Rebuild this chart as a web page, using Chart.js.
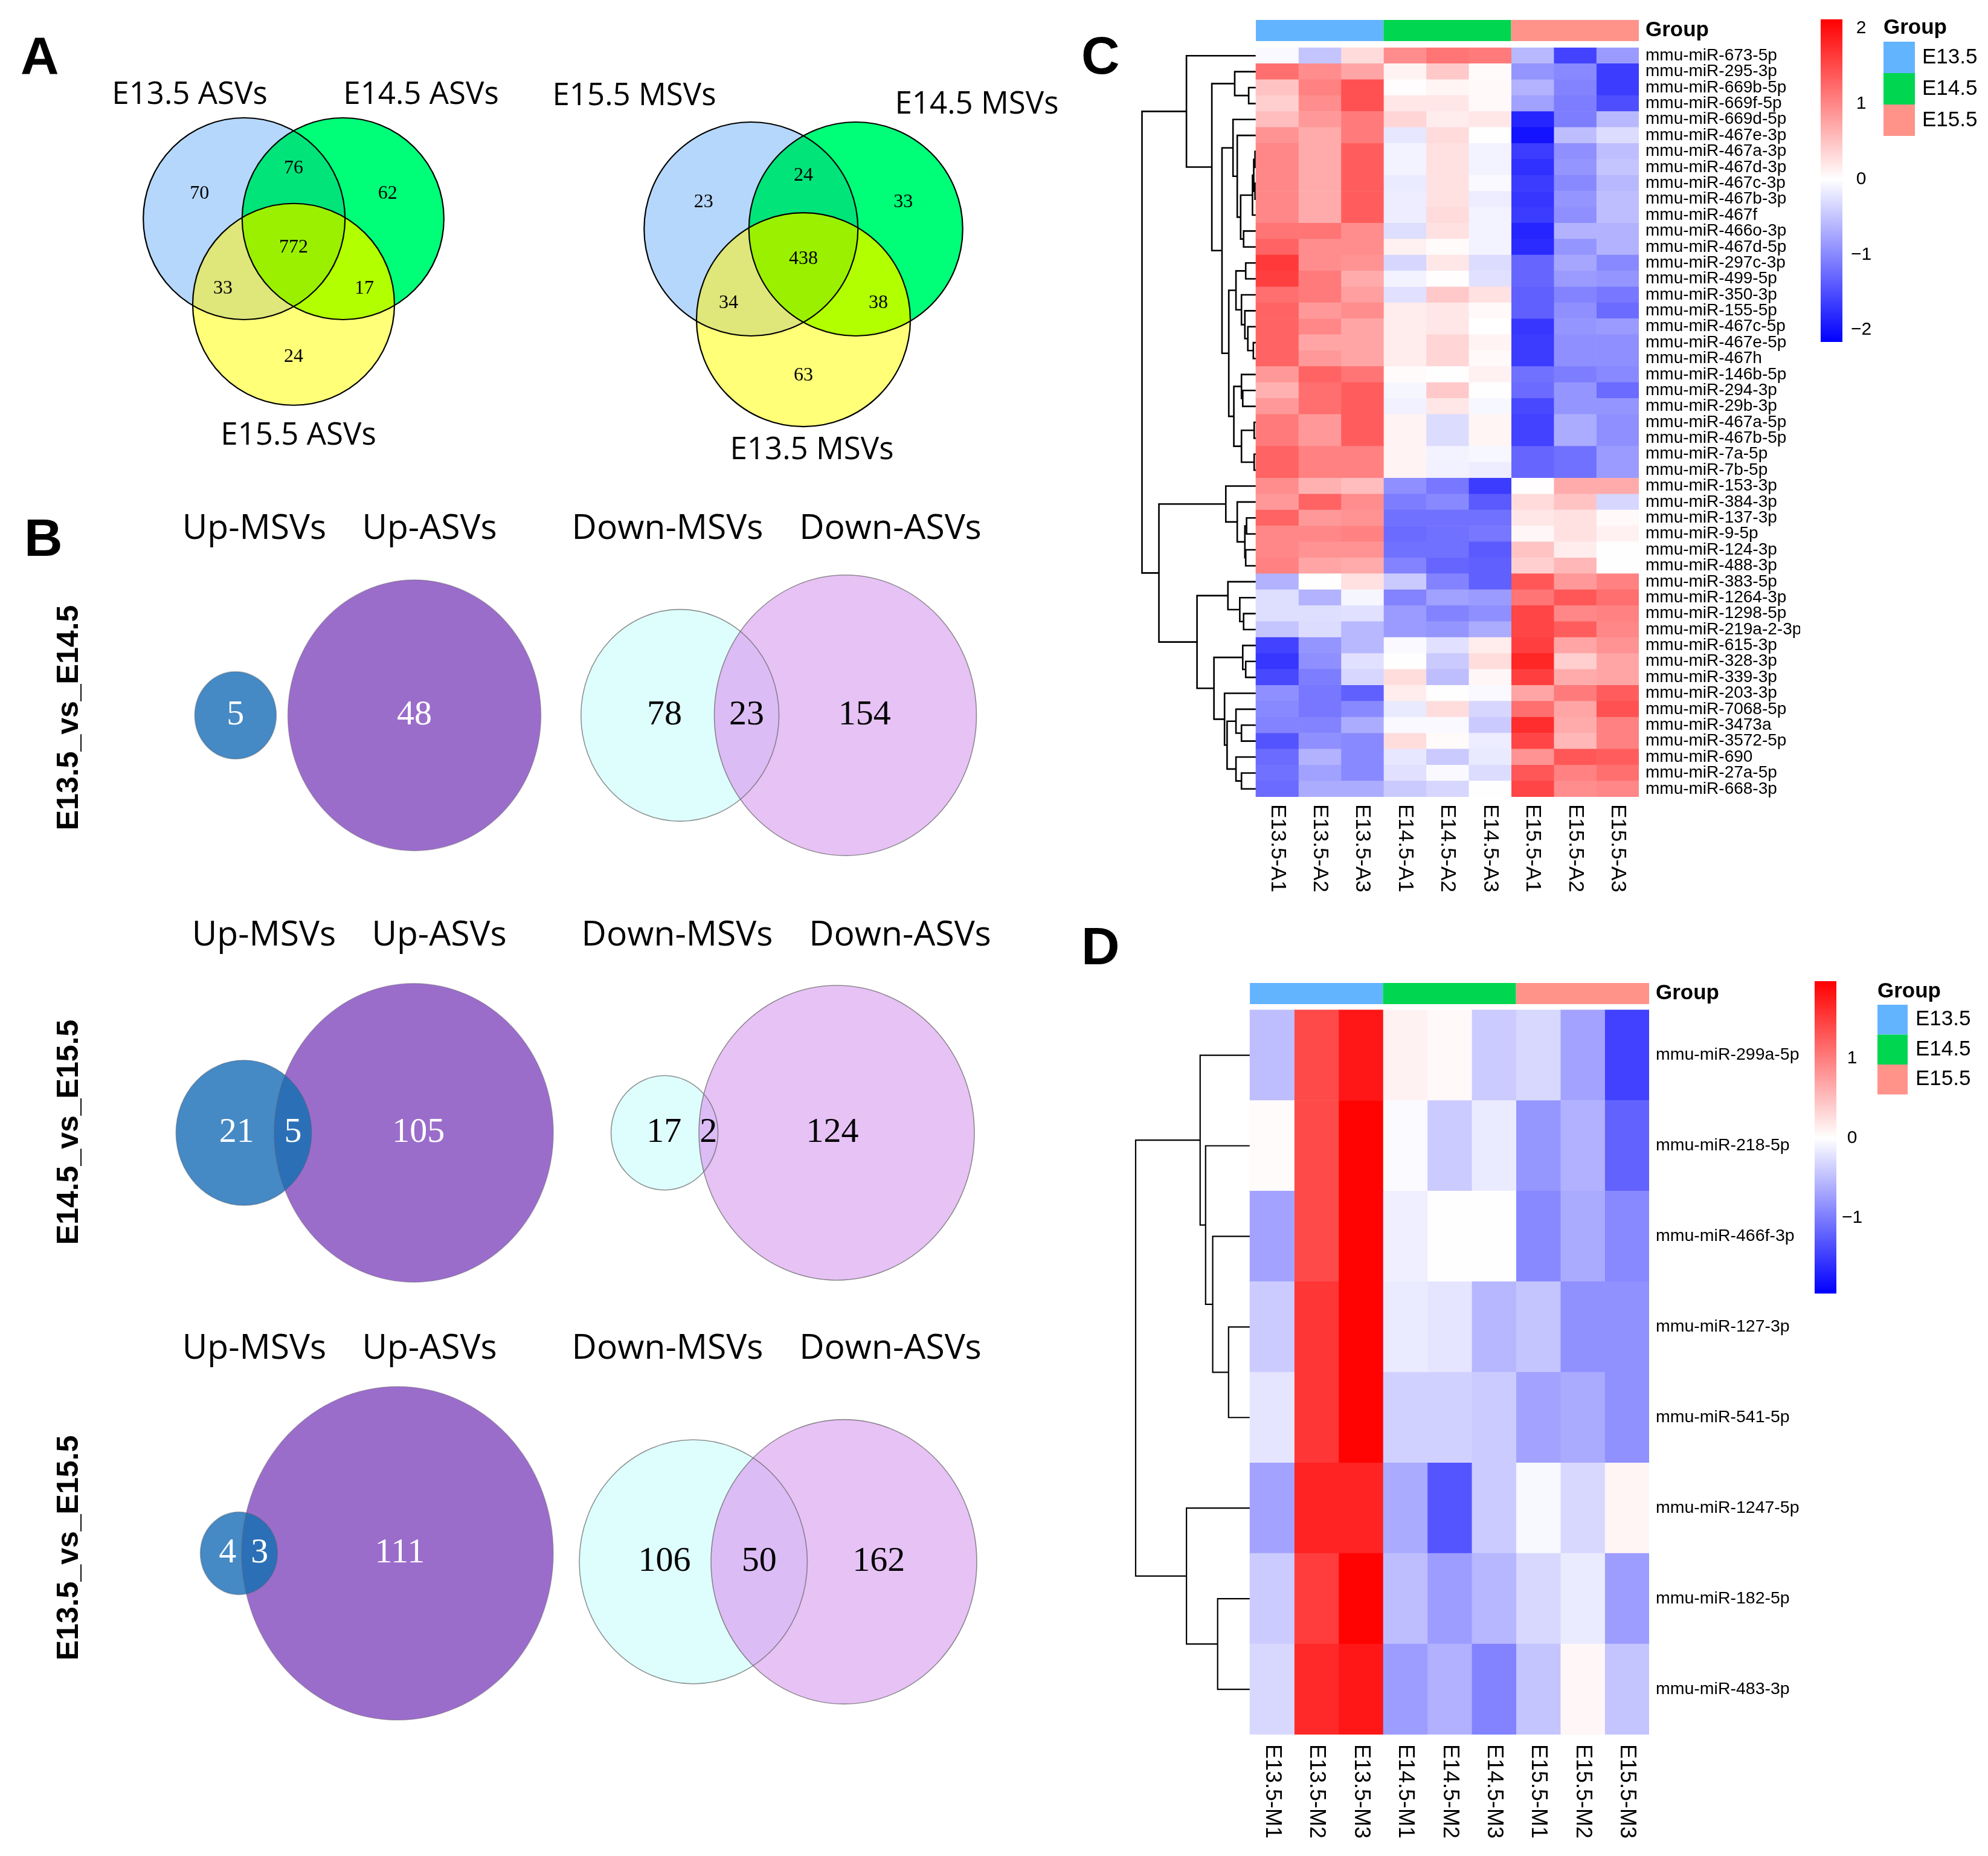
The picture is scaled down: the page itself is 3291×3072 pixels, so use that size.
<!DOCTYPE html>
<html>
<head>
<meta charset="utf-8">
<title>miRNA Venn + heatmaps</title>
<script src="https://cdn.jsdelivr.net/npm/chart.js"></script>
<style>
  html, body { margin: 0; padding: 0; background: #fff; }
  body { width: 3291px; height: 3072px; position: relative; overflow: hidden; }
  .box { position: absolute; }
</style>
</head>
<body>
<div class="box" style="left:0;top:0;width:1860px;height:3072px"><canvas id="venn"></canvas></div>
<div class="box" style="left:1880px;top:0;width:1100px;height:1500px"><canvas id="heatC"></canvas></div>
<div class="box" style="left:2990px;top:0;width:301px;height:640px"><canvas id="legC"></canvas></div>
<div class="box" style="left:1860px;top:1580px;width:1120px;height:1492px"><canvas id="heatD"></canvas></div>
<div class="box" style="left:2980px;top:1580px;width:311px;height:640px"><canvas id="legD"></canvas></div>
<script>
// ---- data ----
// Panel A, three-set Venn counts: only[i], pairs [0&1, 0&2, 1&2], all three
const asvSets = ["E13.5 ASVs", "E14.5 ASVs", "E15.5 ASVs"];
const asvOnly = [70, 62, 24];
const asvPairs = [76, 33, 17];
const asvAll = 772;
const msvSets = ["E15.5 MSVs", "E14.5 MSVs", "E13.5 MSVs"];
const msvOnly = [23, 33, 63];
const msvPairs = [24, 34, 38];
const msvAll = 438;

// Panel B, two-set Venn counts per comparison
const comparisons = ["E13.5_vs_E14.5", "E14.5_vs_E15.5", "E13.5_vs_E15.5"];
const vennTitles = ["Up-MSVs", "Up-ASVs", "Down-MSVs", "Down-ASVs"];
const upMsvOnly = [5, 21, 4];
const upShared = [0, 5, 3];
const upAsvOnly = [48, 105, 111];
const downMsvOnly = [78, 17, 106];
const downShared = [23, 2, 50];
const downAsvOnly = [154, 124, 162];

// Panels C and D, row-scaled expression
const groupNames = ["E13.5", "E14.5", "E15.5"];
const sampleGroup = [0, 0, 0, 1, 1, 1, 2, 2, 2];
const samplesC = ["E13.5-A1", "E13.5-A2", "E13.5-A3", "E14.5-A1", "E14.5-A2", "E14.5-A3", "E15.5-A1", "E15.5-A2", "E15.5-A3"];
const mirC = ["mmu-miR-673-5p", "mmu-miR-295-3p", "mmu-miR-669b-5p", "mmu-miR-669f-5p", "mmu-miR-669d-5p",
  "mmu-miR-467e-3p", "mmu-miR-467a-3p", "mmu-miR-467d-3p", "mmu-miR-467c-3p", "mmu-miR-467b-3p", "mmu-miR-467f",
  "mmu-miR-466o-3p", "mmu-miR-467d-5p", "mmu-miR-297c-3p", "mmu-miR-499-5p", "mmu-miR-350-3p", "mmu-miR-155-5p",
  "mmu-miR-467c-5p", "mmu-miR-467e-5p", "mmu-miR-467h", "mmu-miR-146b-5p", "mmu-miR-294-3p", "mmu-miR-29b-3p",
  "mmu-miR-467a-5p", "mmu-miR-467b-5p", "mmu-miR-7a-5p", "mmu-miR-7b-5p", "mmu-miR-153-3p", "mmu-miR-384-3p",
  "mmu-miR-137-3p", "mmu-miR-9-5p", "mmu-miR-124-3p", "mmu-miR-488-3p", "mmu-miR-383-5p", "mmu-miR-1264-3p",
  "mmu-miR-1298-5p", "mmu-miR-219a-2-3p", "mmu-miR-615-3p", "mmu-miR-328-3p", "mmu-miR-339-3p", "mmu-miR-203-3p",
  "mmu-miR-7068-5p", "mmu-miR-3473a", "mmu-miR-3572-5p", "mmu-miR-690", "mmu-miR-27a-5p", "mmu-miR-668-3p"];
const zC = [
  [-0.05, -0.5, 0.3, 0.95, 1.15, 1.1, -0.6, -1.6, -0.85],
  [1.2, 0.95, 0.75, 0.1, 0.45, 0.03, -0.9, -1.0, -1.65],
  [0.5, 1.05, 1.45, 0.02, 0.08, 0.05, -0.65, -1.05, -1.65],
  [0.4, 0.95, 1.45, 0.2, 0.2, 0.05, -0.8, -1.1, -1.5],
  [0.55, 0.85, 1.1, 0.35, 0.15, 0.2, -1.85, -1.1, -0.6],
  [0.9, 0.7, 1.1, -0.2, 0.3, 0.01, -2.0, -0.55, -0.3],
  [1.0, 0.7, 1.35, -0.1, 0.25, -0.1, -1.65, -0.95, -0.55],
  [1.0, 0.7, 1.35, -0.1, 0.25, -0.1, -1.75, -0.9, -0.5],
  [1.0, 0.7, 1.35, -0.17, 0.25, -0.05, -1.65, -1.0, -0.6],
  [1.0, 0.7, 1.35, -0.15, 0.25, -0.15, -1.7, -0.9, -0.55],
  [1.0, 0.7, 1.35, -0.15, 0.3, -0.1, -1.65, -0.95, -0.55],
  [1.15, 1.15, 0.95, -0.28, 0.25, -0.1, -1.85, -0.65, -0.65],
  [1.3, 0.95, 0.95, 0.12, 0.03, -0.1, -1.8, -0.9, -0.65],
  [1.65, 0.95, 0.9, -0.35, 0.2, -0.3, -1.3, -0.75, -1.0],
  [1.6, 1.1, 0.7, -0.1, 0.02, -0.25, -1.3, -0.85, -0.9],
  [1.2, 1.1, 0.8, -0.25, 0.45, 0.25, -1.35, -1.05, -1.15],
  [1.3, 0.85, 0.95, 0.15, 0.2, 0.05, -1.35, -0.95, -1.25],
  [1.3, 1.0, 0.75, 0.15, 0.2, 0.0, -1.7, -0.9, -0.85],
  [1.3, 0.75, 0.75, 0.15, 0.35, 0.1, -1.65, -0.95, -0.95],
  [1.3, 0.85, 0.75, 0.15, 0.35, 0.05, -1.65, -0.95, -0.95],
  [0.85, 1.3, 1.15, 0.03, 0.01, 0.12, -1.2, -1.1, -1.0],
  [0.65, 1.2, 1.35, -0.08, 0.45, 0.01, -1.25, -0.9, -1.25],
  [0.85, 1.2, 1.35, -0.12, 0.2, -0.07, -1.55, -0.9, -0.9],
  [1.1, 0.85, 1.35, 0.1, -0.3, 0.08, -1.6, -0.7, -0.95],
  [1.1, 0.85, 1.35, 0.1, -0.3, 0.08, -1.6, -0.7, -0.95],
  [1.3, 1.05, 1.05, 0.1, -0.1, -0.07, -1.3, -1.2, -0.85],
  [1.3, 1.05, 1.05, 0.1, -0.12, -0.15, -1.3, -1.2, -0.85],
  [0.95, 0.65, 0.55, -0.95, -1.15, -1.65, 0.02, 0.7, 0.7],
  [0.85, 1.3, 0.95, -1.1, -1.0, -1.4, 0.3, 0.5, -0.35],
  [1.3, 0.85, 0.9, -1.2, -1.2, -1.2, 0.2, 0.25, 0.05],
  [1.0, 1.0, 1.05, -1.25, -1.2, -1.15, 0.07, 0.25, 0.12],
  [1.0, 0.9, 0.9, -1.2, -1.2, -1.4, 0.5, 0.15, 0.01],
  [1.05, 0.75, 0.7, -1.05, -1.3, -1.35, 0.4, 0.6, 0.01],
  [-0.65, 0.01, 0.25, -0.45, -1.05, -1.35, 1.4, 0.85, 1.05],
  [-0.28, -0.65, -0.08, -1.05, -0.8, -0.85, 1.15, 1.4, 1.2],
  [-0.28, -0.28, -0.25, -0.85, -1.05, -0.95, 1.55, 1.0, 1.05],
  [-0.5, -0.3, -0.6, -0.85, -0.9, -0.7, 1.55, 1.35, 1.0],
  [-1.6, -0.9, -0.6, -0.05, -0.25, 0.15, 1.6, 0.75, 0.9],
  [-1.7, -0.95, -0.25, 0.01, -0.45, 0.28, 1.8, 0.4, 0.75],
  [-1.55, -1.1, -0.35, 0.28, -0.55, 0.07, 1.6, 0.7, 0.75],
  [-0.95, -1.15, -1.35, 0.15, 0.01, -0.05, 0.75, 1.1, 1.35],
  [-1.0, -1.15, -1.0, -0.18, 0.28, -0.35, 1.2, 0.75, 1.45],
  [-1.05, -1.05, -0.7, -0.05, -0.05, -0.45, 1.75, 0.7, 1.05],
  [-1.45, -0.95, -1.0, 0.28, 0.03, -0.15, 1.55, 0.6, 1.05],
  [-1.25, -0.65, -1.0, -0.2, -0.45, -0.18, 0.9, 1.4, 1.35],
  [-1.2, -0.8, -1.0, -0.25, -0.05, -0.3, 1.4, 1.05, 1.2],
  [-1.25, -0.7, -0.7, -0.45, -0.35, 0.01, 1.55, 0.95, 1.0]
];
// row dendrogram, hclust style: negative = leaf (1-based row), positive = earlier merge
const mergeC = [
  [-7, -8, 2], [-9, -10, 2], [1, 2, 5], [3, -11, 8], [-12, -13, 29], [4, 5, 36], [-6, 6, 44], [-5, 7, 54],
  [-3, -4, 17], [-2, 9, 50], [-14, -15, 24], [-19, -20, 6], [-18, 12, 19], [-17, 13, 26], [-16, 14, 34],
  [11, 15, 47], [-22, -23, 31], [-21, 17, 34], [-24, -25, 4], [-26, -27, 4], [19, 20, 34], [18, 21, 52],
  [16, 22, 64], [8, 23, 80], [10, 24, 104], [-1, 25, 164],
  [-30, -31, 22], [-32, -33, 24], [27, 28, 26], [-29, 29, 44], [-28, 30, 71], [-36, -37, 29], [-35, 32, 38],
  [-34, 33, 66], [-39, -40, 24], [-38, 35, 31], [-43, -44, 34], [-42, 37, 47], [-46, -47, 34], [-45, 39, 47],
  [38, 40, 68], [-41, 41, 74], [36, 42, 99], [34, 43, 139], [31, 44, 229], [26, 45, 269]
];
const colorTicksC = [-2, -1, 0, 1, 2];

const samplesD = ["E13.5-M1", "E13.5-M2", "E13.5-M3", "E14.5-M1", "E14.5-M2", "E14.5-M3", "E15.5-M1", "E15.5-M2", "E15.5-M3"];
const mirD = ["mmu-miR-299a-5p", "mmu-miR-218-5p", "mmu-miR-466f-3p", "mmu-miR-127-3p",
  "mmu-miR-541-5p", "mmu-miR-1247-5p", "mmu-miR-182-5p", "mmu-miR-483-3p"];
const zD = [
  [-0.5, 1.4, 1.8, 0.1, 0.05, -0.4, -0.3, -0.7, -1.45],
  [0.03, 1.4, 1.95, -0.04, -0.4, -0.15, -0.8, -0.6, -1.2],
  [-0.7, 1.4, 1.95, -0.12, -0.01, -0.01, -0.9, -0.65, -0.9],
  [-0.4, 1.55, 1.95, -0.15, -0.2, -0.55, -0.45, -0.85, -0.85],
  [-0.2, 1.55, 1.95, -0.35, -0.35, -0.4, -0.7, -0.65, -0.85],
  [-0.7, 1.7, 1.7, -0.65, -1.3, -0.4, -0.05, -0.3, 0.08],
  [-0.4, 1.5, 1.95, -0.5, -0.75, -0.55, -0.3, -0.15, -0.75],
  [-0.3, 1.65, 1.8, -0.75, -0.6, -0.95, -0.45, 0.06, -0.45]
];
const mergeD = [[-4, -5, 39], [-3, 1, 68], [-2, 2, 81], [-1, 3, 91], [-7, -8, 59], [-6, 5, 116], [4, 6, 209]];
const colorTicksD = [-1, 0, 1];

// ---- layout & style ----
const SANS = '"Open Sans", sans-serif';
const HELV = '"Liberation Sans", Arial, sans-serif';
const SERIF = '"Liberation Serif", "Times New Roman", serif';
const groupColors = ["#63B4FF", "#00D64F", "#FF938A"];
const triColors = { single: ["#B5D7FB", "#00FF78", "#FFFF78"], pair: ["#00E47A", "#DFE67A", "#B2FF00"], all: "#9BF000" };
const twinStyle = {
  up: { a: "#4589C5", b: "#9B6DCB", ab: "#2B70B7", text: "#fff", stroke: "rgba(90,90,90,0.35)" },
  down: { a: "#DEFDFD", b: "#E7C2F5", ab: "#DCBCF5", text: "#000", stroke: "rgba(100,100,100,0.7)" }
};
const TRI_SIDE = 0.98;     // centre spacing of the three circles, in radii
const STRETCH = 1.07;      // panel B images are slightly taller than wide
const triVenns = [
  { cx: 486, cy: 362, r: 167, names: asvSets, only: asvOnly, pairs: asvPairs, all: asvAll,
    nameAt: [[314, 172], [697, 172], [494, 736]] },
  { cx: 1330, cy: 379, r: 177, names: msvSets, only: msvOnly, pairs: msvPairs, all: msvAll,
    nameAt: [[1050, 174], [1617, 188], [1344, 760]] }
];
const twinLayout = [
  { up: { cx: 686, cy: 1184, k: 30.24, gap: 19 }, down: { cx: 1399.5, cy: 1184, k: 16.31 } },
  { up: { cx: 685, cy: 1875, k: 22.03, gap: 19 }, down: { cx: 1385, cy: 1875, k: 20.31 } },
  { up: { cx: 658, cy: 2571, k: 24.16, gap: 19 }, down: { cx: 1397, cy: 2585, k: 15.11 } }
];
const titleX = [421, 711, 1105, 1474];
const titleShift = [0, 16, 0];
const titleBase = [892, 1565, 2249];
const rowLabelY = [1188, 1874, 2562];
const panelLetters = [["A", 34, 122], ["B", 40, 920], ["C", 1790, 122], ["D", 1790, 1596]];

// ---- helpers ----
function text(ctx, str, x, y, font, o = {}) {
  ctx.save();
  ctx.font = font;
  ctx.fillStyle = o.color || "#000";
  ctx.textAlign = o.align || "center";
  ctx.textBaseline = o.baseline || "alphabetic";
  ctx.translate(x, y);
  if (o.rotate) ctx.rotate(o.rotate);
  ctx.fillText(str, 0, 0);
  ctx.restore();
}
function ellipsePath(ctx, c) {
  ctx.beginPath();
  ctx.ellipse(c.x, c.y, c.rx, c.ry, 0, 0, Math.PI * 2);
}
// fill the intersection of all given ellipses
function fillRegion(ctx, shapes, color) {
  ctx.save();
  for (let k = 0; k < shapes.length - 1; k++) { ellipsePath(ctx, shapes[k]); ctx.clip(); }
  ellipsePath(ctx, shapes[shapes.length - 1]);
  ctx.fillStyle = color;
  ctx.fill();
  ctx.restore();
}
function lensArea(r1, r2, d) {
  if (d >= r1 + r2) return 0;
  if (d <= Math.abs(r1 - r2)) return Math.PI * Math.min(r1, r2) ** 2;
  const a = r1 * r1 * Math.acos((d * d + r1 * r1 - r2 * r2) / (2 * d * r1));
  const b = r2 * r2 * Math.acos((d * d + r2 * r2 - r1 * r1) / (2 * d * r2));
  const c = 0.5 * Math.sqrt((-d + r1 + r2) * (d + r1 - r2) * (d - r1 + r2) * (d + r1 + r2));
  return a + b - c;
}
function solveDistance(r1, r2, area) {
  let lo = Math.abs(r1 - r2), hi = r1 + r2;
  for (let i = 0; i < 60; i++) {
    const mid = (lo + hi) / 2;
    if (lensArea(r1, r2, mid) > area) lo = mid; else hi = mid;
  }
  return (lo + hi) / 2;
}
function zColor(v, lo, hi) {
  if (v >= 0) {
    const t = Math.min(1, v / hi), g = Math.round(255 * (1 - t));
    return `rgb(255,${g},${g})`;
  }
  const t = Math.min(1, v / lo), g = Math.round(255 * (1 - t));
  return `rgb(${g},${g},255)`;
}
function dendroPoints(merge, scale) {
  const pos = [], hgt = [], pts = [];
  const node = id => id < 0 ? { y: -id - 1, h: 0 } : { y: pos[id - 1], h: hgt[id - 1] };
  merge.forEach(([a, b, h]) => {
    const A = node(a), B = node(b);
    pts.push({ x: -A.h * scale, y: A.y }, { x: -h * scale, y: A.y },
             { x: -h * scale, y: B.y }, { x: -B.h * scale, y: B.y }, { x: null, y: null });
    pos.push((A.y + B.y) / 2);
    hgt.push(h);
  });
  return pts;
}
const base = {
  responsive: true, maintainAspectRatio: false, animation: false, events: [],
  plugins: { legend: { display: false }, tooltip: { enabled: false } }
};

// ---- panels A and B ----
function drawTriple(chart, v) {
  const { ctx } = chart, X = chart.scales.x, Y = chart.scales.y;
  const px = (x, y) => [X.getPixelForValue(x), Y.getPixelForValue(y)];
  const rx = X.getPixelForValue(v.r) - X.getPixelForValue(0);
  const ry = Math.abs(Y.getPixelForValue(v.r) - Y.getPixelForValue(0));
  const s = v.r * TRI_SIDE, h = s * Math.sqrt(3) / 2;
  const centres = [[v.cx - s / 2, v.cy], [v.cx + s / 2, v.cy], [v.cx, v.cy + h]];
  const circ = centres.map(([x, y]) => { const [a, b] = px(x, y); return { x: a, y: b, rx, ry }; });
  circ.forEach((c, k) => fillRegion(ctx, [c], triColors.single[k]));
  [[0, 1], [0, 2], [1, 2]].forEach(([a, b], k) => fillRegion(ctx, [circ[a], circ[b]], triColors.pair[k]));
  fillRegion(ctx, circ, triColors.all);
  ctx.save();
  ctx.strokeStyle = "#000"; ctx.lineWidth = 2.2;
  circ.forEach(c => { ellipsePath(ctx, c); ctx.stroke(); });
  ctx.restore();
  const r = v.r;
  const spots = [
    [centres[0][0] - 0.443 * r, v.cy - 0.25 * r, v.only[0]],
    [centres[1][0] + 0.443 * r, v.cy - 0.25 * r, v.only[1]],
    [v.cx, v.cy + h + 0.52 * r, v.only[2]],
    [v.cx, v.cy - 0.5 * r, v.pairs[0]],
    [v.cx - 0.70 * r, v.cy + 0.69 * r, v.pairs[1]],
    [v.cx + 0.70 * r, v.cy + 0.69 * r, v.pairs[2]],
    [v.cx, v.cy + h / 3, v.all]
  ];
  spots.forEach(([x, y, n]) => { const [a, b] = px(x, y); text(ctx, String(n), a, b, `32px ${SERIF}`, { baseline: "middle" }); });
  v.names.forEach((nm, k) => { const [a, b] = px(v.nameAt[k][0], v.nameAt[k][1]); text(ctx, nm, a, b, `51px ${SANS}`); });
}

function drawTwin(chart, lay, counts, st) {
  const { ctx } = chart, X = chart.scales.x, Y = chart.scales.y;
  const [aOnly, both, bOnly] = counts;
  const r1 = Math.sqrt(aOnly + both), r2 = Math.sqrt(bOnly + both);
  const d = both > 0 ? solveDistance(r1, r2, Math.PI * both) : r1 + r2 + lay.gap / lay.k;
  const R1 = r1 * lay.k, R2 = r2 * lay.k;
  const c2 = lay.cx, c1 = lay.cx - d * lay.k;
  const shape = (cx, R) => ({
    x: X.getPixelForValue(cx), y: Y.getPixelForValue(lay.cy),
    rx: X.getPixelForValue(R) - X.getPixelForValue(0),
    ry: Math.abs(Y.getPixelForValue(R * STRETCH) - Y.getPixelForValue(0))
  });
  const A = shape(c1, R1), B = shape(c2, R2);
  fillRegion(ctx, [A], st.a);
  fillRegion(ctx, [B], st.b);
  if (both > 0) fillRegion(ctx, [A, B], st.ab);
  ctx.save();
  ctx.strokeStyle = st.stroke; ctx.lineWidth = 1.6;
  [A, B].forEach(c => { ellipsePath(ctx, c); ctx.stroke(); });
  ctx.restore();
  let spots;
  if (both > 0) {
    spots = [
      [((c1 - R1) + (c2 - R2)) / 2 + 0.17 * R1, aOnly],
      [((c2 - R2) + (c1 + R1)) / 2, both],
      [((c1 + R1) + (c2 + R2)) / 2 - 0.1 * R2, bOnly]
    ];
  } else {
    spots = [[c1, aOnly], [c2, bOnly]];
  }
  spots.forEach(([x, n]) => text(ctx, String(n), X.getPixelForValue(x), Y.getPixelForValue(lay.cy),
    `58px ${SERIF}`, { baseline: "middle", color: st.text }));
}

const vennPlugin = {
  id: "venns",
  afterDraw(chart) {
    const { ctx } = chart, X = chart.scales.x, Y = chart.scales.y;
    triVenns.forEach(v => drawTriple(chart, v));
    comparisons.forEach((cmp, i) => {
      drawTwin(chart, twinLayout[i].up, [upMsvOnly[i], upShared[i], upAsvOnly[i]], twinStyle.up);
      drawTwin(chart, twinLayout[i].down, [downMsvOnly[i], downShared[i], downAsvOnly[i]], twinStyle.down);
      vennTitles.forEach((t, k) => text(ctx, t, X.getPixelForValue(titleX[k] + titleShift[i]),
        Y.getPixelForValue(titleBase[i]), `57px ${SANS}`));
      text(ctx, cmp, X.getPixelForValue(115), Y.getPixelForValue(rowLabelY[i]), `bold 50px ${HELV}`,
        { baseline: "middle", rotate: -Math.PI / 2 });
    });
    panelLetters.forEach(([l, x, y]) => text(ctx, l, X.getPixelForValue(x), Y.getPixelForValue(y),
      `bold 88px ${HELV}`, { align: "left" }));
  }
};

new Chart(document.getElementById("venn"), {
  type: "scatter",
  data: { datasets: [] },
  options: Object.assign({}, base, {
    layout: { padding: 0 },
    scales: {
      x: { type: "linear", min: 0, max: 1860, display: false },
      y: { type: "linear", min: 0, max: 3072, reverse: true, display: false }
    }
  }),
  plugins: [vennPlugin]
});

// ---- heatmaps ----
function heatmap(id, cfg) {
  const n = cfg.rows.length, m = cfg.cols.length;
  const yMax = n - 0.5;
  const datasets = cfg.cols.map((col, j) => ({
    type: "bar", label: col,
    data: cfg.rows.map((r, i) => ({ y: i, x: [j, j + 1] })),
    backgroundColor: cfg.rows.map((r, i) => zColor(cfg.z[i][j], cfg.lo, cfg.hi)),
    grouped: false, barPercentage: 1, categoryPercentage: 1, borderWidth: 0,
    xAxisID: "x", yAxisID: "y"
  }));
  const spans = groupNames.map((g, k) => {
    const idx = sampleGroup.map((s, j) => s === k ? j : -1).filter(j => j >= 0);
    return { y: cfg.annotAt, x: [Math.min(...idx), Math.max(...idx) + 1] };
  });
  datasets.push({
    type: "bar", label: "Group", data: spans, backgroundColor: groupColors,
    grouped: false, categoryPercentage: 1, barPercentage: cfg.annotH / (yMax - cfg.yMin), borderWidth: 0,
    xAxisID: "x", yAxisID: "ya"
  });
  datasets.push({
    type: "line", label: "dendrogram", data: dendroPoints(cfg.merge, cfg.dendroScale),
    borderColor: "#000", borderWidth: cfg.lineW, pointRadius: 0, spanGaps: false, fill: false,
    tension: 0, clip: false, xAxisID: "x", yAxisID: "y"
  });
  const labelsPlugin = {
    id: "heatLabels",
    afterDraw(chart) {
      const { ctx, chartArea } = chart, X = chart.scales.x, YA = chart.scales.ya;
      cfg.cols.forEach((c, j) => text(ctx, c, X.getPixelForValue(j + 0.5), chartArea.bottom + cfg.colGap,
        `${cfg.colFont}px ${HELV}`, { align: "left", baseline: "middle", rotate: Math.PI / 2 }));
      text(ctx, "Group", chartArea.right + cfg.labelPad, YA.getPixelForValue(cfg.annotAt),
        `bold 35px ${HELV}`, { align: "left", baseline: "middle" });
    }
  };
  return new Chart(document.getElementById(id), {
    type: "bar",
    data: { datasets },
    options: Object.assign({}, base, {
      indexAxis: "y",
      layout: { padding: { left: cfg.padLeft, top: cfg.padTop, bottom: cfg.padBottom, right: 0 } },
      scales: {
        x: { type: "linear", min: cfg.xMin, max: m, display: false, offset: false },
        y: {
          type: "linear", axis: "y", reverse: true, min: cfg.yMin, max: yMax, position: "right", offset: false,
          grid: { display: false, drawTicks: false, offset: false }, border: { display: false },
          afterBuildTicks: s => { s.ticks = cfg.rows.map((r, i) => ({ value: i })); },
          afterFit: s => { s.width = cfg.axisW; },
          ticks: { autoSkip: false, padding: cfg.labelPad, color: "#000",
            font: { family: HELV, size: cfg.rowFont }, callback: v => cfg.rows[v] }
        },
        ya: {
          type: "linear", axis: "y", reverse: true, min: cfg.yMin, max: yMax, display: false, offset: false,
          grid: { offset: false },
          afterBuildTicks: s => { s.ticks = []; }
        }
      }
    }),
    plugins: [labelsPlugin]
  });
}

function colorBar(id, cfg) {
  const legendPlugin = {
    id: "groupLegend",
    afterDraw(chart) {
      const { ctx } = chart, L = cfg.legend;
      const ox = cfg.left, oy = cfg.top;
      text(ctx, "Group", L.x - ox, L.title - oy, `bold 35px ${HELV}`, { align: "left" });
      groupNames.forEach((g, k) => {
        ctx.fillStyle = groupColors[k];
        ctx.fillRect(L.x - ox, L.y - oy + k * L.h, L.w, L.h);
        text(ctx, g, L.tx - ox, L.y - oy + (k + 0.5) * L.h, `35px ${HELV}`, { align: "left", baseline: "middle" });
      });
    }
  };
  return new Chart(document.getElementById(id), {
    type: "bar",
    data: {
      labels: [""],
      datasets: [{
        data: [[cfg.lo, cfg.hi]], borderWidth: 0, barPercentage: 1, categoryPercentage: 1,
        backgroundColor: c => {
          const area = c.chart.chartArea;
          if (!area) return "#fff";
          const g = c.chart.ctx.createLinearGradient(0, area.bottom, 0, area.top);
          g.addColorStop(0, zColor(cfg.lo, cfg.lo, cfg.hi));
          g.addColorStop((0 - cfg.lo) / (cfg.hi - cfg.lo), "#fff");
          g.addColorStop(1, zColor(cfg.hi, cfg.lo, cfg.hi));
          return g;
        }
      }]
    },
    options: Object.assign({}, base, {
      layout: { padding: { left: cfg.padLeft, top: cfg.padTop, bottom: cfg.padBottom, right: 0 } },
      scales: {
        x: { display: false },
        y: {
          type: "linear", min: cfg.lo, max: cfg.hi, position: "right",
          grid: { display: false, drawTicks: false }, border: { display: false },
          afterBuildTicks: s => { s.ticks = cfg.ticks.map(v => ({ value: v })); },
          afterFit: s => { s.width = cfg.axisW; },
          ticks: { padding: cfg.tickPad, crossAlign: "center", color: "#000",
            font: { family: HELV, size: 30 }, callback: v => v < 0 ? "\u2212" + Math.abs(v) : String(v) }
        }
      }
    }),
    plugins: [legendPlugin]
  });
}

heatmap("heatC", {
  rows: mirC, cols: samplesC, z: zC, merge: mergeC, lo: -2.16, hi: 2.12,
  padLeft: 8, padTop: 33, padBottom: 181, axisW: 267, labelPad: 11,
  xMin: -2.7115, yMin: -2.244, annotAt: -1.58, annotH: 1.327, dendroScale: 2.676 / 269,
  rowFont: 28, colFont: 35, colGap: 12, lineW: 2.6
});
colorBar("legC", {
  left: 2990, top: 0, lo: -2.16, hi: 2.12, ticks: colorTicksC,
  padLeft: 24, padTop: 29, padBottom: 74, axisW: 241, tickPad: 14,
  legend: { x: 3118, title: 56, y: 69, w: 52, h: 52, tx: 3182 }
});
heatmap("heatD", {
  rows: mirD, cols: samplesD, z: zD, merge: mergeD, lo: -1.95, hi: 1.97,
  padLeft: 18, padTop: 47, padBottom: 201, axisW: 250, labelPad: 11,
  xMin: -2.602, yMin: -0.7975, annotAt: -0.681, annotH: 0.2335, dendroScale: 2.575 / 209,
  rowFont: 28.5, colFont: 36, colGap: 16, lineW: 2.2
});
colorBar("legD", {
  left: 2980, top: 1580, lo: -1.95, hi: 1.97, ticks: colorTicksD,
  padLeft: 24, padTop: 44, padBottom: 79, axisW: 251, tickPad: 9,
  legend: { x: 3108, title: 1651, y: 1663, w: 50, h: 49.5, tx: 3171 }
});
</script>
</body>
</html>
